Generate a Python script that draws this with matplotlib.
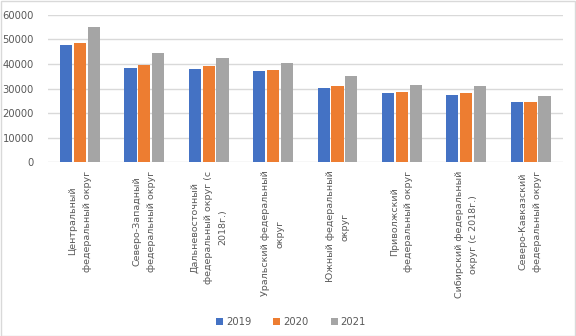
import numpy as np
import matplotlib.pyplot as plt
from matplotlib.patches import Rectangle

okruga = [
    'Центральный\nфедеральный округ',
    'Северо-Западный\nфедеральный округ',
    'Дальневосточный\nфедеральный округ (с\n2018г.)',
    'Уральский федеральный\nокруг',
    'Южный федеральный\nокруг',
    'Приволжский\nфедеральный округ',
    'Сибирский федеральный\nокруг (с 2018г.)',
    'Северо-Кавказский\nфедеральный округ',
]
years = ['2019', '2020', '2021']
v2019 = [47700, 38300, 37900, 37100, 30200, 28100, 27300, 24500]
v2020 = [48500, 39500, 39100, 37500, 31000, 28500, 28100, 24500]
v2021 = [55000, 44400, 42400, 40400, 35100, 31400, 31000, 26900]
colors = ['#4472C4', '#ED7D31', '#A5A5A5']

plt.rcParams['font.family'] = ['DejaVu Sans']

fig = plt.figure(figsize=(5.76, 3.36), dpi=100)
ax = fig.add_axes([0.083, 0.517, 0.894, 0.439])

x = np.arange(len(okruga))
w = 0.19
for i, (vals, lab) in enumerate(zip([v2019, v2020, v2021], years)):
    ax.bar(x + (i - 1) * 0.215, vals, width=w, color=colors[i], label=lab, zorder=3)

ax.set_xlim(-0.5, len(okruga) - 0.5)
ax.set_ylim(0, 60000)
ax.set_yticks(range(0, 60001, 10000))
ax.grid(axis='y', color='#D9D9D9', linewidth=1, zorder=0)
for s in ax.spines.values():
    s.set_visible(False)
ax.tick_params(axis='y', length=0, pad=10, labelsize=7.2, labelcolor='#595959')
ax.tick_params(axis='x', length=0, pad=6)
ax.set_xticks(x)
ax.set_xticklabels(okruga, rotation=90, ha='center', va='top', multialignment='center',
                   fontsize=6.8, color='#595959', linespacing=1.75)

fig.legend(loc='lower center', bbox_to_anchor=(0.505, 0.0), ncol=3, frameon=False,
           fontsize=7.2, labelcolor='#595959', handlelength=0.7, handleheight=0.7,
           handletextpad=0.3, columnspacing=2.2)

fig.patches.append(Rectangle((0.001, 0.001), 0.997, 0.997, transform=fig.transFigure,
                             fill=False, edgecolor='#D9D9D9', linewidth=1))

fig.savefig('out.png', dpi=100)
